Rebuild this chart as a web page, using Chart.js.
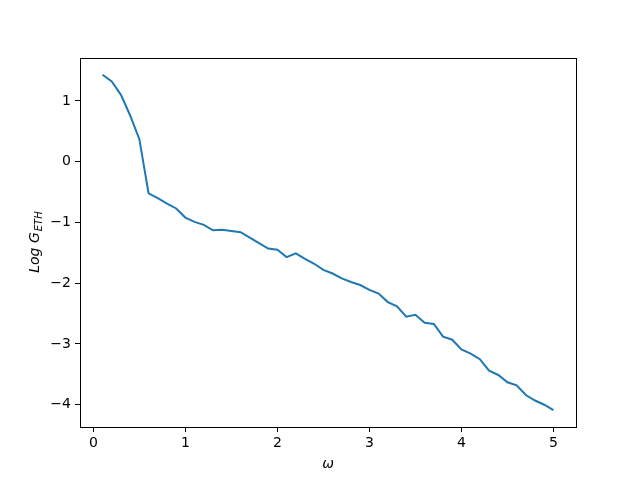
<!DOCTYPE html>
<html>
<head>
<meta charset="utf-8">
<script src="https://cdn.jsdelivr.net/npm/chart.js@4/dist/chart.umd.min.js"></script>
<style>
  html, body { margin: 0; padding: 0; background: #fff; }
  canvas { display: block; }
</style>
</head>
<body>
<canvas id="chart" width="640" height="480"></canvas>
<script>
// omega values and log G_ETH
const omega = [
  0.1, 0.2, 0.3, 0.4, 0.5, 0.6, 0.7, 0.8, 0.9, 1.0,
  1.1, 1.2, 1.3, 1.4, 1.5, 1.6, 1.7, 1.8, 1.9, 2.0,
  2.1, 2.2, 2.3, 2.4, 2.5, 2.6, 2.7, 2.8, 2.9, 3.0,
  3.1, 3.2, 3.3, 3.4, 3.5, 3.6, 3.7, 3.8, 3.9, 4.0,
  4.1, 4.2, 4.3, 4.4, 4.5, 4.6, 4.7, 4.8, 4.9, 5.0,
];
const logG = [
  1.43, 1.32, 1.10, 0.76, 0.37, -0.52, -0.60, -0.69, -0.77, -0.92,
  -0.99, -1.04, -1.13, -1.12, -1.14, -1.16, -1.25, -1.34, -1.43, -1.45,
  -1.57, -1.51, -1.60, -1.68, -1.78, -1.84, -1.92, -1.98, -2.03, -2.11,
  -2.17, -2.31, -2.38, -2.55, -2.52, -2.65, -2.67, -2.88, -2.93, -3.09,
  -3.16, -3.25, -3.44, -3.51, -3.63, -3.68, -3.84, -3.93, -4.00, -4.09,
];
const xTicks = [0, 1, 2, 3, 4, 5];
const yTicks = [-4, -3, -2, -1, 0, 1];

const FONT = 'DejaVu Sans';

// matplotlib-like 5% margins around data
function padded(vals) {
  const lo = Math.min(...vals), hi = Math.max(...vals);
  const m = (hi - lo) * 0.05;
  return { min: lo - m, max: hi + m };
}
const xr = padded(omega);
const yr = padded(logG);

const fmt = (v) => String(v).replace('-', '\u2212');

// ─── frame + axis titles ─────────────────────────────────────────

const framePlugin = {
  id: 'frame',
  afterDraw(chart) {
    const { ctx, chartArea: a } = chart;
    ctx.save();
    ctx.strokeStyle = '#000';
    ctx.lineWidth = 1;
    ctx.strokeRect(Math.round(a.left) + 0.5, Math.round(a.top) + 0.5,
      Math.round(a.right - a.left), Math.round(a.bottom - a.top));

    ctx.fillStyle = '#000';
    // x title
    ctx.font = `italic 14px "${FONT}"`;
    ctx.textAlign = 'center';
    ctx.textBaseline = 'alphabetic';
    ctx.fillText('\u03c9', (a.left + a.right) / 2, 468);

    // y title: Log G with subscript ETH
    const main = 'Log G', sub = 'ETH';
    ctx.translate(39, (a.top + a.bottom) / 2);
    ctx.rotate(-Math.PI / 2);
    ctx.font = `italic 14px "${FONT}"`;
    const w1 = ctx.measureText(main).width;
    ctx.font = `italic 10px "${FONT}"`;
    const w2 = ctx.measureText(sub).width;
    const x0 = -(w1 + w2) / 2;
    ctx.textAlign = 'left';
    ctx.font = `italic 14px "${FONT}"`;
    ctx.fillText(main, x0, 0);
    ctx.font = `italic 10px "${FONT}"`;
    ctx.fillText(sub, x0 + w1 + 1, 3);
    ctx.restore();
  },
};

new Chart(document.getElementById('chart'), {
  type: 'line',
  data: {
    datasets: [{
      data: omega.map((x, i) => ({ x, y: logG[i] })),
      borderColor: '#1f77b4',
      borderWidth: 2,
      pointRadius: 0,
      tension: 0,
      fill: false,
    }],
  },
  options: {
    responsive: false,
    animation: false,
    events: [],
    layout: { padding: { left: 0, top: 58, right: 64, bottom: 0 } },
    plugins: { legend: { display: false }, tooltip: { enabled: false } },
    scales: {
      x: {
        type: 'linear',
        min: xr.min,
        max: xr.max,
        afterFit: (s) => { s.height = 53; },
        afterBuildTicks: (s) => { s.ticks = xTicks.map((v) => ({ value: v })); },
        grid: { drawOnChartArea: false, drawTicks: true, tickLength: 5, tickColor: '#000' },
        border: { display: true, color: '#000', width: 1 },
        ticks: { color: '#000', padding: 3, maxRotation: 0, font: { family: FONT, size: 14 }, callback: fmt },
      },
      y: {
        type: 'linear',
        min: yr.min,
        max: yr.max,
        afterFit: (s) => { s.width = 80; },
        afterBuildTicks: (s) => { s.ticks = yTicks.map((v) => ({ value: v })); },
        grid: { drawOnChartArea: false, drawTicks: true, tickLength: 5, tickColor: '#000' },
        border: { display: true, color: '#000', width: 1 },
        ticks: { color: '#000', padding: 4, font: { family: FONT, size: 14 }, callback: fmt },
      },
    },
  },
  plugins: [framePlugin],
});
</script>
</body>
</html>
